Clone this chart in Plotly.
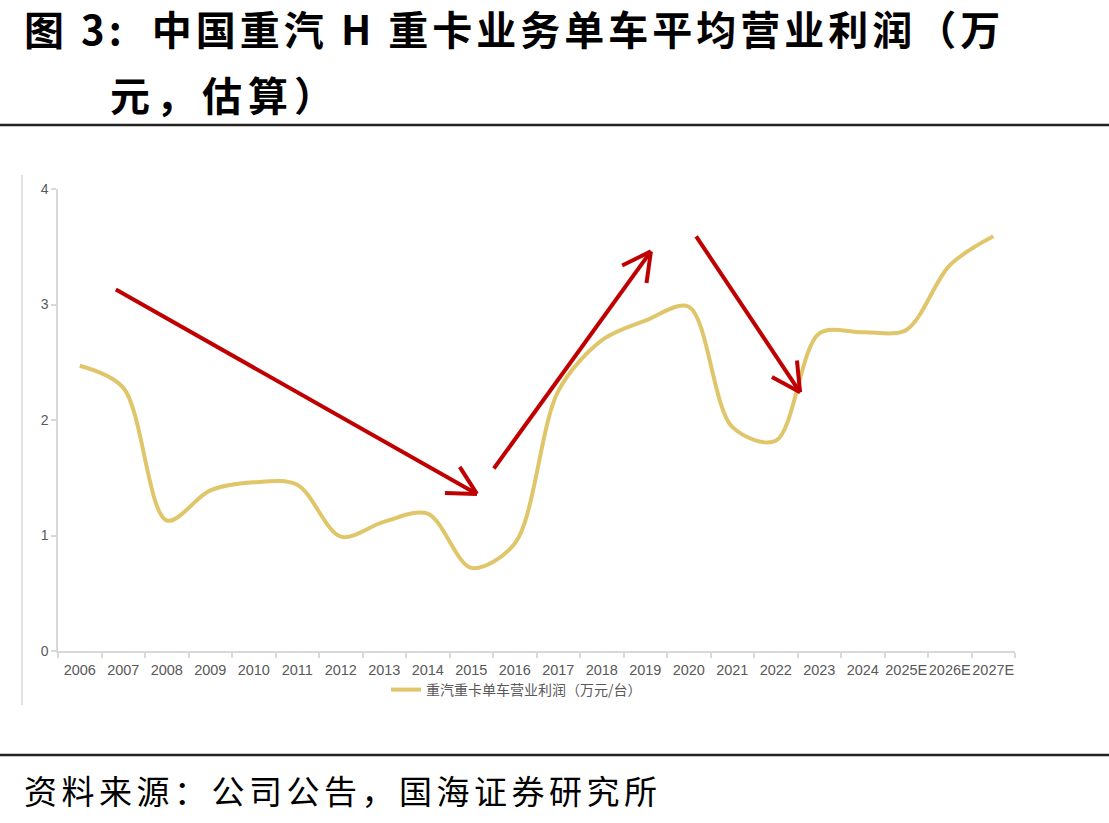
import math
import plotly.graph_objects as go

# ---------------- data ----------------
categories = ["2006", "2007", "2008", "2009", "2010", "2011", "2012", "2013", "2014",
              "2015", "2016", "2017", "2018", "2019", "2020", "2021", "2022", "2023",
              "2024", "2025E", "2026E", "2027E"]
profit = [2.47, 2.28, 1.13, 1.39, 1.46, 1.44, 0.99, 1.12, 1.19, 0.72, 0.93, 2.25,
          2.69, 2.86, 2.98, 1.94, 1.82, 2.75, 2.76, 2.78, 3.34, 3.59]
series_name = "重汽重卡单车营业利润（万元/台）"
y_ticks = [0, 1, 2, 3, 4]

# decorative arrows (start, tip) in data coordinates (category index, value)
arrows = [
    ((0.83, 3.13), (9.13, 1.36)),
    ((9.52, 1.58), (13.13, 3.46)),
    ((14.17, 3.59), (16.56, 2.24)),
]

# ---------------- layout geometry ----------------
W, H = 1109, 823
ML, MR, MT, MB = 58, 94, 189, 172
PW, PH = W - ML - MR, H - MT - MB
XMIN, XMAX, YMIN, YMAX = -0.5, len(categories) - 0.5, 0, 4


def px_x(px):
    return (px - ML) / PW


def px_y(py):
    return (H - MB - py) / PH


def d2p(x, y):
    return ML + (x - XMIN) / (XMAX - XMIN) * PW, H - MB - (y - YMIN) / (YMAX - YMIN) * PH


def p2d(px, py):
    return XMIN + (px - ML) / PW * (XMAX - XMIN), YMIN + (H - MB - py) / PH * (YMAX - YMIN)


GOLD = "#E0C66A"
RED = "#C00000"
GRAY = "#595959"
AXIS = "#D9D9D9"

fig = go.Figure()
fig.add_trace(go.Scatter(
    x=categories, y=profit, mode="lines", name=series_name,
    line=dict(color=GOLD, width=4, shape="spline", smoothing=0.9),
))

shapes = []
for (sx, sy), (tx, ty) in arrows:
    shapes.append(dict(type="line", xref="x", yref="y", x0=sx, y0=sy, x1=tx, y1=ty,
                       line=dict(color=RED, width=4), layer="above"))
    # arrow head arms computed in pixel space
    spx, spy = d2p(sx, sy)
    tpx, tpy = d2p(tx, ty)
    ang = math.atan2(spy - tpy, spx - tpx)
    for da in (math.radians(28), -math.radians(28)):
        ax_ = tpx + 32 * math.cos(ang + da)
        ay_ = tpy + 32 * math.sin(ang + da)
        hx, hy = p2d(ax_, ay_)
        shapes.append(dict(type="line", xref="x", yref="y", x0=tx, y0=ty, x1=hx, y1=hy,
                           line=dict(color=RED, width=4), layer="above"))

# rules and chart frame
shapes.append(dict(type="line", xref="paper", yref="paper", x0=px_x(0), x1=px_x(W),
                   y0=px_y(125), y1=px_y(125), line=dict(color="#222222", width=2.5)))
shapes.append(dict(type="line", xref="paper", yref="paper", x0=px_x(0), x1=px_x(W),
                   y0=px_y(755), y1=px_y(755), line=dict(color="#222222", width=2.5)))
shapes.append(dict(type="line", xref="paper", yref="paper", x0=px_x(22), x1=px_x(22),
                   y0=px_y(175), y1=px_y(705), line=dict(color=AXIS, width=1.5)))

CJK = "Noto Sans CJK SC"
annotations = [
    dict(xref="paper", yref="paper", x=px_x(22), y=px_y(28), xanchor="left", yanchor="middle",
         showarrow=False,
         text='<b><span style="letter-spacing:4px">图 3:  中国重汽 H 重卡业务单车平均营业利润（万</span></b>',
         font=dict(family=CJK, size=40, color="#000000")),
    dict(xref="paper", yref="paper", x=px_x(108), y=px_y(94), xanchor="left", yanchor="middle",
         showarrow=False,
         text='<b><span style="letter-spacing:6px">元，估算）</span></b>',
         font=dict(family=CJK, size=40, color="#000000")),
    dict(xref="paper", yref="paper", x=px_x(22), y=px_y(790), xanchor="left", yanchor="middle",
         showarrow=False,
         text='<span style="letter-spacing:4.5px">资料来源：公司公告，国海证券研究所</span>',
         font=dict(family=CJK, size=33, color="#000000")),
]

fig.update_layout(
    width=W, height=H,
    margin=dict(l=ML, r=MR, t=MT, b=MB, pad=0),
    paper_bgcolor="white", plot_bgcolor="white",
    showlegend=True,
    legend=dict(orientation="h", x=px_x(386), y=px_y(690), xanchor="left", yanchor="middle",
                font=dict(family=CJK, size=14, color=GRAY), bgcolor="rgba(0,0,0,0)"),
    shapes=shapes, annotations=annotations,
    xaxis=dict(type="category", range=[XMIN, XMAX], showgrid=False, zeroline=False,
               showline=True, linecolor=AXIS, linewidth=1.5, tickangle=0,
               ticks="outside", tickson="boundaries", ticklen=5, tickcolor=AXIS, tickwidth=1.5,
               ticklabelstandoff=5,
               tickfont=dict(family="Liberation Sans", size=14.5, color=GRAY)),
    yaxis=dict(range=[YMIN, YMAX], tickvals=y_ticks, showgrid=False, zeroline=False,
               showline=True, linecolor=AXIS, linewidth=1.5,
               ticks="outside", ticklen=5, tickcolor=AXIS, tickwidth=1.5,
               tickfont=dict(family="Liberation Sans", size=14, color=GRAY)),
)

fig.write_html("out.html")
